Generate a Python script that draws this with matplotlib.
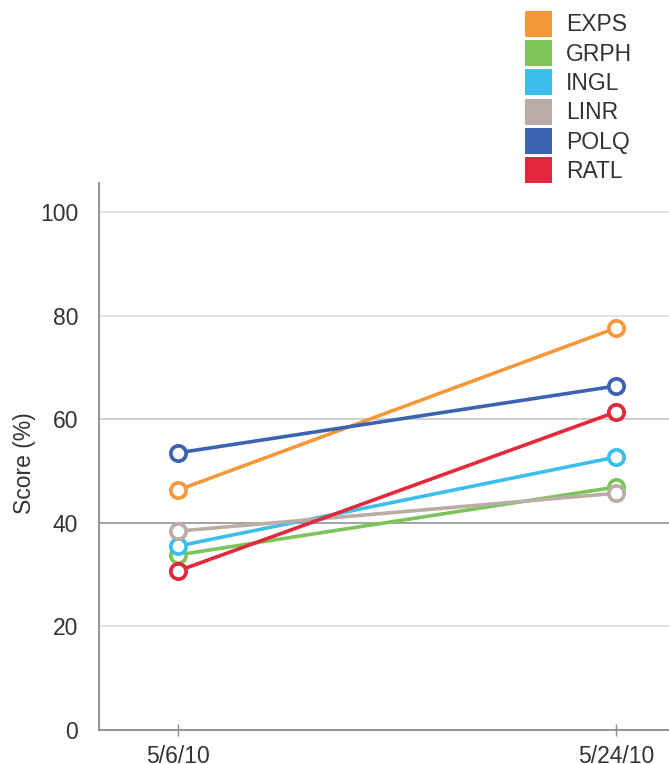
import matplotlib
matplotlib.use("Agg")
import matplotlib.pyplot as plt
from matplotlib.patches import Patch

plt.rcParams['font.family'] = ['Liberation Sans', 'DejaVu Sans']

dates = ['5/6/10', '5/24/10']
series = ['EXPS', 'GRPH', 'INGL', 'LINR', 'POLQ', 'RATL']
scores = {
    'EXPS': [46.3, 77.6],
    'GRPH': [33.8, 46.9],
    'INGL': [35.5, 52.7],
    'LINR': [38.4, 45.7],
    'POLQ': [53.5, 66.4],
    'RATL': [30.7, 61.4],
}
colors = {
    'EXPS': '#F4993A',
    'GRPH': '#7CC45A',
    'INGL': '#3CBEEC',
    'LINR': '#BBADA5',
    'POLQ': '#3C63AF',
    'RATL': '#E2293B',
}
y_ticks = [0, 20, 40, 60, 80, 100]
grid_colors = {20: '#e2e2e2', 40: '#a3a3a3', 60: '#cfcfcf', 80: '#e2e2e2', 100: '#e2e2e2'}

fig = plt.figure(figsize=(6.69, 7.64), dpi=100)
ax = fig.add_axes([0.148, 0.0445, 0.852, 0.716])

x = list(range(len(dates)))
for name in series:
    ax.plot(x, scores[name], color=colors[name], lw=2.6, marker='o', ms=11,
            mfc='white', mec=colors[name], mew=2.7, zorder=3, clip_on=False)

for t in y_ticks[1:]:
    ax.axhline(t, color=grid_colors[t], lw=1.4, zorder=1)

ax.set_xlim(-0.18, 1.121)
ax.set_ylim(0, 105.6)
ax.set_xticks(x)
ax.set_xticklabels(dates)
ax.set_yticks(y_ticks)

for side in ['top', 'right']:
    ax.spines[side].set_visible(False)
for side in ['left', 'bottom']:
    ax.spines[side].set_color('#8c8c8c')
    ax.spines[side].set_linewidth(1.3)

ax.tick_params(axis='y', length=0, pad=15, labelsize=16.5, labelcolor='#333333')
ax.tick_params(axis='x', direction='inout', length=9, width=1, color='#8c8c8c',
               pad=6, labelsize=16.5, labelcolor='#333333')

ax.set_ylabel('Score (%)', fontsize=16.5, color='#333333')
ax.yaxis.set_label_coords(-0.11, 0.487)

handles = [Patch(facecolor=colors[n], edgecolor='none') for n in series]
leg = fig.legend(handles, series, loc='upper left', bbox_to_anchor=(0.785, 0.986),
                 frameon=False, fontsize=16.5, borderpad=0, borderaxespad=0,
                 handlelength=1.15, handleheight=1.36, handletextpad=0.62,
                 labelspacing=0.15)
for txt in leg.get_texts():
    txt.set_color('#333333')

fig.savefig('out.png', dpi=100)
